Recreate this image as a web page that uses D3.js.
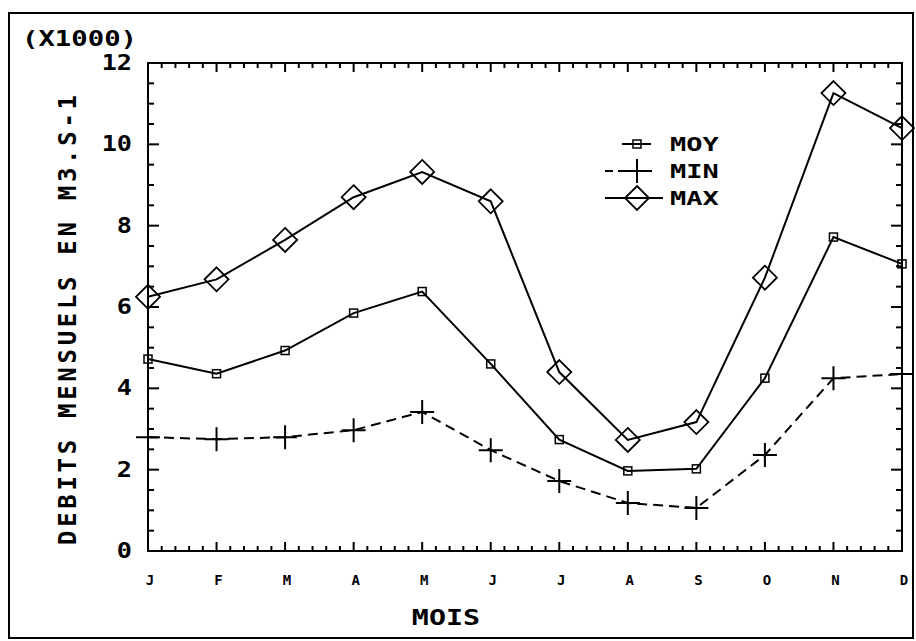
<!DOCTYPE html>
<html>
<head>
<meta charset="utf-8">
<script src="https://cdn.jsdelivr.net/npm/d3@7"></script>
<style>
  body { margin: 0; background: #fff; }
  svg text { font-family: "DejaVu Sans Mono", monospace; font-weight: bold; fill: #000; }
</style>
</head>
<body>
<svg id="chart" width="916" height="641"></svg>
<script>
const months = ['J', 'F', 'M', 'A', 'M', 'J', 'J', 'A', 'S', 'O', 'N', 'D'];
const moy = [4.72, 4.36, 4.93, 5.85, 6.38, 4.6, 2.74, 1.97, 2.02, 4.25, 7.72, 7.06];
const min = [2.8, 2.75, 2.8, 2.97, 3.42, 2.48, 1.72, 1.18, 1.06, 2.36, 4.25, 4.35];
const max = [6.25, 6.68, 7.65, 8.7, 9.32, 8.6, 4.4, 2.73, 3.17, 6.72, 11.26, 10.4];
const yTicks = [0, 2, 4, 6, 8, 10, 12];

const svg = d3.select('#chart');

// outer frame
svg.append('rect')
  .attr('x', 9).attr('y', 13).attr('width', 904).attr('height', 625)
  .attr('fill', 'none').attr('stroke', '#000').attr('stroke-width', 2);

const x = d3.scaleLinear().domain([0, 11]).range([148, 902]);
const y = d3.scaleLinear().domain([0, 12]).range([551, 63]);

// plot box
svg.append('rect')
  .attr('x', x(0)).attr('y', y(12))
  .attr('width', x(11) - x(0)).attr('height', y(0) - y(12))
  .attr('fill', 'none').attr('stroke', '#000').attr('stroke-width', 2);

// ticks, pointing inward on all four sides
const tickLine = (x1, y1, x2, y2) => svg.append('line')
  .attr('x1', x1).attr('y1', y1).attr('x2', x2).attr('y2', y2)
  .attr('stroke', '#000').attr('stroke-width', 2);
d3.range(0, 56).forEach((k) => {
  const v = k / 5;
  const len = k % 5 === 0 ? 9 : 5;
  tickLine(x(v), y(0), x(v), y(0) - len);
  tickLine(x(v), y(12), x(v), y(12) + len);
});
d3.range(0, 25).forEach((k) => {
  const v = k / 2;
  const len = k % 4 === 0 ? 11 : 6;
  tickLine(x(0), y(v), x(0) + len, y(v));
  tickLine(x(11), y(v), x(11) - len, y(v));
});

// y tick labels
svg.append('g').selectAll('text').data(yTicks).join('text')
  .attr('transform', (d) => `translate(132,${y(d) + 7}) scale(1.2,1)`)
  .attr('text-anchor', 'end')
  .attr('font-size', 21)
  .text((d) => d);

svg.append('text').attr('transform', 'translate(22,46) scale(1.3,1)')
  .attr('font-size', 21)
  .text('(X1000)');

// month labels
svg.append('g').selectAll('text').data(months).join('text')
  .attr('x', (d, i) => x(i) + 2).attr('y', 585)
  .attr('text-anchor', 'middle')
  .attr('font-size', 14)
  .text((d) => d);

svg.append('text')
  .attr('transform', 'translate(446,625) scale(1.35,1)')
  .attr('text-anchor', 'middle').attr('font-size', 21)
  .text('MOIS');

svg.append('text')
  .attr('transform', 'translate(76,320) rotate(-90)')
  .attr('text-anchor', 'middle').attr('font-size', 24)
  .attr('textLength', 450).attr('lengthAdjust', 'spacing')
  .text('DEBITS MENSUELS EN M3.S-1');

// markers
const square = (g, cx, cy) => g.append('rect')
  .attr('x', cx - 4).attr('y', cy - 4).attr('width', 8).attr('height', 8)
  .attr('fill', 'none').attr('stroke', '#000').attr('stroke-width', 1.5);
const plus = (g, cx, cy) => g.append('path')
  .attr('d', `M${cx - 12},${cy}H${cx + 12}M${cx},${cy - 12}V${cy + 12}`)
  .attr('stroke', '#000').attr('stroke-width', 2);
const diamond = (g, cx, cy) => g.append('path')
  .attr('d', `M${cx},${cy - 12}L${cx + 12},${cy}L${cx},${cy + 12}L${cx - 12},${cy}Z`)
  .attr('fill', 'none').attr('stroke', '#000').attr('stroke-width', 1.8);

const line = d3.line().x((d, i) => x(i)).y((d) => y(d));
const series = [
  { values: max, dash: null, mark: diamond },
  { values: moy, dash: null, mark: square },
  { values: min, dash: '10,6', mark: plus },
];
series.forEach((s) => {
  const g = svg.append('g');
  g.append('path').attr('d', line(s.values))
    .attr('fill', 'none').attr('stroke', '#000').attr('stroke-width', 2)
    .attr('stroke-dasharray', s.dash);
  s.values.forEach((v, i) => s.mark(g, x(i), y(v)));
});

// legend
const legend = [
  { label: 'MOY', y: 144, x1: 622, x2: 651, dash: null, mark: square },
  { label: 'MIN', y: 171, x1: 605, x2: 655, dash: '8,5', mark: plus },
  { label: 'MAX', y: 198, x1: 605, x2: 663, dash: null, mark: diamond },
];
legend.forEach((l) => {
  const g = svg.append('g');
  g.append('line').attr('x1', l.x1).attr('x2', l.x2).attr('y1', l.y).attr('y2', l.y)
    .attr('stroke', '#000').attr('stroke-width', 2).attr('stroke-dasharray', l.dash);
  l.mark(g, 637, l.y);
  g.append('text').attr('transform', `translate(670,${l.y + 7}) scale(1.35,1)`)
    .attr('font-size', 20)
    .text(l.label);
});
</script>
</body>
</html>
